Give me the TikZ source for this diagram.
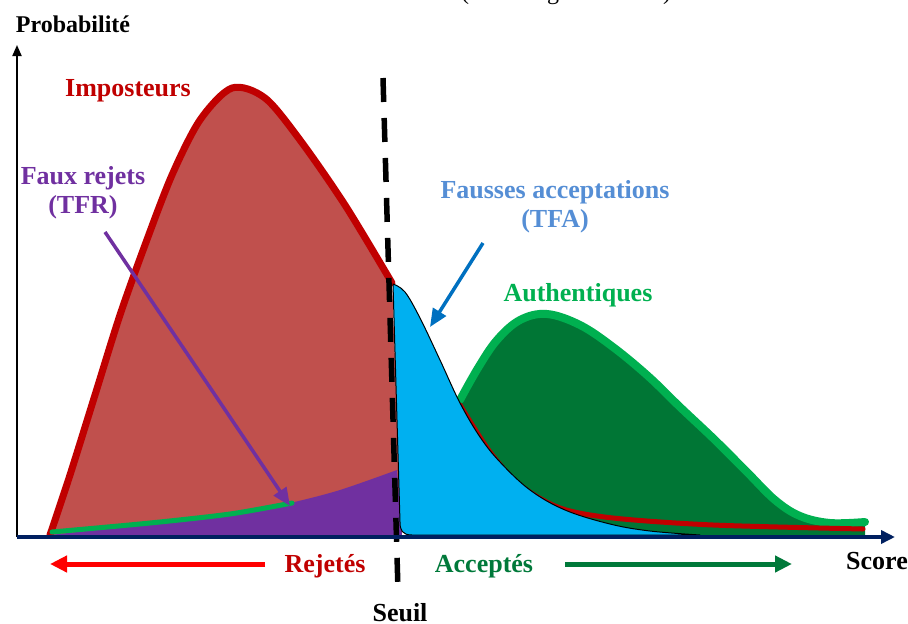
\documentclass[tikz,border=0pt]{standalone}
\usepackage{fontspec}
\setmainfont{Liberation Serif}
\usetikzlibrary{arrows.meta}
\definecolor{impred}{HTML}{C00000}
\definecolor{impfill}{HTML}{C0504D}
\definecolor{authline}{HTML}{00B050}
\definecolor{authfill}{HTML}{007635}
\definecolor{tfablue}{HTML}{00B0F0}
\definecolor{tfrpurple}{HTML}{7030A0}
\definecolor{tfatext}{HTML}{558ED5}
\definecolor{arrowblue}{HTML}{0070C0}
\definecolor{axisnavy}{HTML}{002060}
\definecolor{accgreen}{HTML}{00793A}
\definecolor{rejred}{HTML}{FF0000}
\begin{document}
\begin{tikzpicture}[x=1pt,y=-1pt,
  lbl/.style={font=\fontsize{26}{29}\selectfont\bfseries, align=center, inner sep=0pt},
  curve/.style={line join=round, line cap=round},
  pointer/.style={line width=3.5pt, -{Triangle[length=18pt,width=15pt]}},
  sidearrow/.style={line width=5pt, -{Triangle[length=17pt,width=16pt]}}]
\useasboundingbox (0,0) rectangle (908,624);

% title line, only its lowest strokes fall inside the frame
\begin{scope}
  \clip (0,0) rectangle (908,14);
  \node[lbl, font=\fontsize{24}{27}\selectfont, anchor=base] (title) at (566,-1) {(\hspace{78pt}g\hspace{104pt})};
\end{scope}

% impostor distribution
\fill[impfill] plot[smooth, tension=0.5] coordinates {(50,535) (70,475) (95,395) (120,315) (145,245) (172,175) (200,120) (232,88) (265,98) (300,140) (345,205) (392,283)} -- (402,537) -- (50,537) -- cycle;
\draw[impred, line width=7pt, curve] plot[smooth, tension=0.5] coordinates {(50,535) (70,475) (95,395) (120,315) (145,245) (172,175) (200,120) (232,88) (265,98) (300,140) (345,205) (392,283)};

% false rejections (genuine scores below the threshold)
\fill[tfrpurple] plot[smooth] coordinates {(50,535) (150,524) (230,515) (290,503) (340,490) (397,470)} -- (402,536) -- (50,536) -- cycle;
\draw[authline, line width=5pt, curve] plot[smooth] coordinates {(52,532) (150,523) (230,514) (292,503)};

% genuine distribution
\fill[authfill] (440,537) -- plot[smooth, tension=0.6] coordinates {(445,430) (460,400) (478,368) (497,340) (520,320) (547,314) (580,325) (613,347) (648,376) (680,407) (715,440) (747,472) (775,500) (800,516) (830,523) (865,522)} -- (865,537) -- cycle;
\draw[authline, line width=8pt, curve] plot[smooth, tension=0.6] coordinates {(460,400) (478,368) (497,340) (520,320) (547,314) (580,325) (613,347) (648,376) (680,407) (715,440) (747,472) (775,500) (800,516) (830,523) (865,522)};

% impostor tail beyond the threshold
\draw[impred, line width=5pt, curve] plot[smooth] coordinates {(460,405) (490,452) (520,485) (560,508) (613,518) (713,525) (863,529)};

% false acceptances (impostor scores above the threshold)
\filldraw[fill=tfablue, draw=black, line width=1pt, line join=round]
  plot[smooth, tension=0.6] coordinates {(393,284) (405,292) (420,318) (440,360) (460,403) (480,437) (500,462) (530,490) (565,510) (610,524) (650,531) (700,535)}
  -- (412,535) .. controls (402,535) and (400,530) .. (400,522) -- cycle;

% threshold
\coordinate (thtop) at (383,78);
\coordinate (thbot) at (398,590);
\draw[black, line width=5.5pt, dash pattern=on 24pt off 16pt] (thtop) -- (thbot);

% axes
\coordinate (origin) at (17,537);
\coordinate (ytip) at (17,45);
\coordinate (xtip) at (895,537);
\draw[black, line width=2pt, -{Triangle[length=11pt,width=9pt]}] (origin) -- (ytip);
\draw[axisnavy, line width=3.5pt, -{Triangle[length=14pt,width=13pt]}] (origin) -- (xtip);

% labels
\node[lbl, font=\fontsize{24}{27}\selectfont\bfseries] (prob) at (73,24) {Probabilité};
\node[lbl, impred] (imp) at (128,91) {Imposteurs};
\node[lbl, tfrpurple] (tfr) at (83,193) {Faux rejets\\(TFR)};
\node[lbl, tfatext] (tfa) at (555,207) {Fausses acceptations\\(TFA)};
\node[lbl, authline] (auth) at (578,295) {Authentiques};
\node[lbl, impred] (rej) at (325,566) {Rejetés};
\node[lbl, accgreen] (acc) at (484,566) {Acceptés};
\node[lbl] (seuil) at (400,613) {Seuil};
\node[lbl] (score) at (877,561) {Score};

% pointers
\coordinate (tfrstart) at (105,232);
\coordinate (tfrtip) at (290,506);
\coordinate (tfastart) at (483,243);
\coordinate (tfatip) at (430,327);
\draw[tfrpurple, pointer] (tfrstart) -- (tfrtip);
\draw[arrowblue, pointer] (tfastart) -- (tfatip);

% decision arrows
\coordinate (rejstart) at (265,564);
\coordinate (rejend) at (50,564);
\coordinate (accstart) at (565,564);
\coordinate (accend) at (792,564);
\draw[rejred, sidearrow] (rejstart) -- (rejend);
\draw[accgreen, sidearrow] (accstart) -- (accend);
\end{tikzpicture}
\end{document}
